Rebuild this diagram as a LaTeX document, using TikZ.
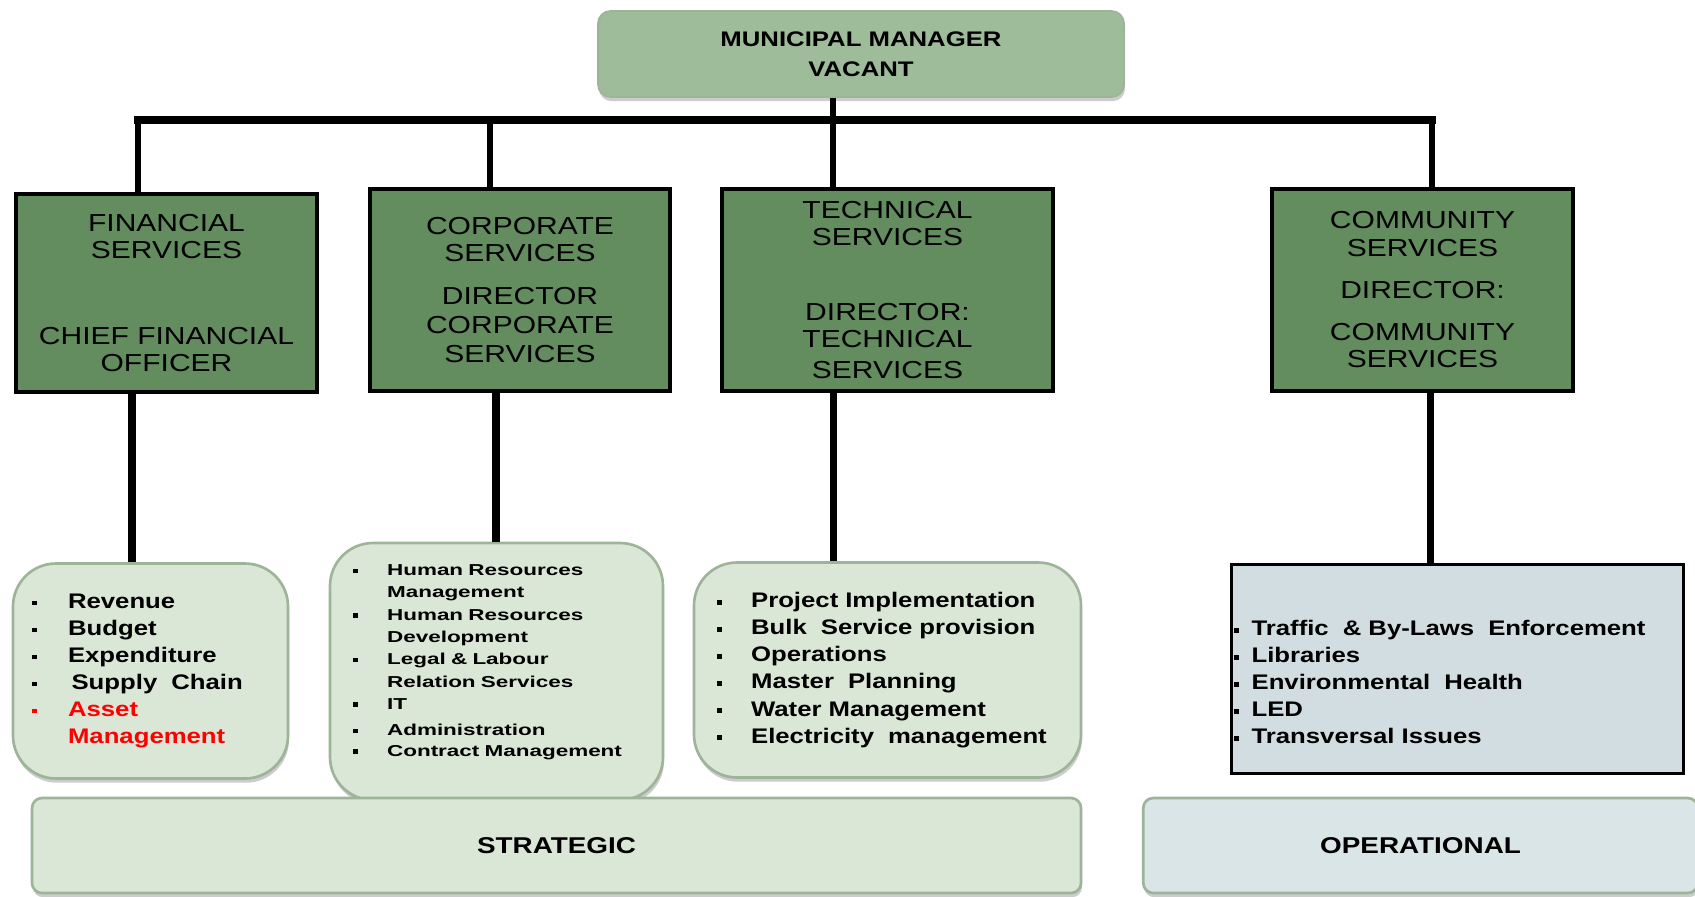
\documentclass[tikz,border=0pt]{standalone}
\usepackage{fontspec}
\setmainfont[FakeStretch=1.22]{Liberation Sans}
\newfontfamily\corpfont[FakeStretch=1.42]{Liberation Sans}
\usetikzlibrary{calc,shadows}
\definecolor{mmgreen}{HTML}{9EBC9A}
\definecolor{deptgreen}{HTML}{638C5F}
\definecolor{listgreen}{HTML}{DAE7D7}
\definecolor{listedge}{HTML}{9DB499}
\definecolor{commblue}{HTML}{D1DDE0}
\definecolor{opblue}{HTML}{D9E5E6}
\tikzstyle{softshadow}=[drop shadow={shadow xshift=0.6pt,shadow yshift=-2.4pt,opacity=0.4}]
\tikzstyle{mmbox}=[draw=listedge,line width=1pt,fill=mmgreen,rounded corners=0.25cm,softshadow,minimum width=10.52cm,minimum height=1.72cm,align=center,font=\fontsize{12}{14.4}\selectfont\bfseries]
\tikzstyle{deptbox}=[draw=black,line width=1.9pt,fill=deptgreen,align=center,font=\fontsize{14}{15.4}\selectfont]
\tikzstyle{listbox}=[draw=listedge,line width=1.5pt,fill=listgreen,rounded corners=0.86cm,softshadow,align=left,inner xsep=0pt,font=\fontsize{12}{15.4}\selectfont\bfseries]
\tikzstyle{commbox}=[draw=black,line width=1.7pt,fill=commblue,align=left,inner xsep=0pt,font=\fontsize{12}{15.4}\selectfont\bfseries]
\tikzstyle{bandbox}=[draw=listedge,line width=1.5pt,rounded corners=0.2cm,softshadow,minimum height=1.90cm,font=\fontsize{13}{15}\selectfont\bfseries]
\tikzstyle{busline}=[line width=5pt,line cap=rect]
\tikzstyle{tapline}=[line width=3.4pt]
\tikzstyle{dropline}=[line width=4pt]
\newcommand{\sqb}{\rule[0.15em]{2.6pt}{2.6pt}}
\newcommand{\itm}[2][20.5pt]{\mbox{\makebox[#1][l]{\sqb}#2}}
\newcommand{\cnt}[2][20.5pt]{\mbox{\hspace*{#1}#2}}

\begin{document}
\begin{tikzpicture}
	\useasboundingbox (0,0) rectangle (33.9,-17.92);
	% manager and directorates
	\node[mmbox] (mm) at (17.22,-1.08) {MUNICIPAL MANAGER\\[2.8pt]VACANT};
	\node[deptbox,minimum width=6.02cm,minimum height=3.96cm] (fin) at (3.33,-5.86) {FINANCIAL\\SERVICES\\[34pt]CHIEF FINANCIAL\\OFFICER};
	\node[deptbox,minimum width=6.00cm,minimum height=4.04cm] (corp) at (10.40,-5.80) {CORPORATE\\SERVICES\\[9pt]DIRECTOR\\[1.2pt]CORPORATE\\[1.2pt]SERVICES};
	\node[deptbox,minimum width=6.62cm,minimum height=4.04cm] (tech) at (17.75,-5.80) {TECHNICAL\\SERVICES\\[27pt]DIRECTOR:\\TECHNICAL\\[2.4pt]SERVICES};
	\node[deptbox,minimum width=6.02cm,minimum height=4.04cm] (comm) at (28.45,-5.80) {COMMUNITY\\SERVICES\\[9pt]DIRECTOR:\\[8.5pt]COMMUNITY\\SERVICES};
	% functions
	\node[listbox,minimum width=5.50cm,minimum height=4.30cm,text width=4.74cm] (finList) at (3.01,-13.42) {\itm{Revenue}\\\itm{Budget}\\\itm{Expenditure}\\\itm{\,Supply\ \ Chain}\\{\color{red}\itm{Asset}}\\{\color{red}\cnt{Management}}};
	\node[listbox,minimum width=6.66cm,minimum height=5.14cm,text width=5.74cm,font=\corpfont\fontsize{9}{12.7}\selectfont\bfseries] (corpList) at (9.93,-13.43) {\itm[19.4pt]{Human Resources}\\\cnt[19.4pt]{Management}\\\itm[19.4pt]{Human Resources}\\\cnt[19.4pt]{Development}\\\itm[19.4pt]{Legal \& Labour}\\\cnt[19.4pt]{Relation Services}\\\itm[19.4pt]{IT}\\[2.3pt]\itm[19.4pt]{Administration}\\[-1.1pt]\itm[19.4pt]{Contract Management}\\\mbox{}};
	\node[listbox,minimum width=7.74cm,minimum height=4.30cm,text width=6.82cm] (techList) at (17.75,-13.40) {\itm[19.4pt]{Project Implementation}\\\itm[19.4pt]{Bulk\ \ Service provision}\\\itm[19.4pt]{Operations}\\\itm[19.4pt]{Master\ \ Planning}\\\itm[19.4pt]{Water Management}\\\itm[19.4pt]{Electricity\ \ management}};
	\node[commbox,minimum width=9.04cm,minimum height=4.18cm,text width=8.92cm] (commList) at (29.14,-13.37) {\mbox{}\\[9pt]\itm[10pt]{Traffic\ \ \&\ By-Laws\ \ Enforcement}\\\itm[10pt]{Libraries}\\\itm[10pt]{Environmental\ \ Health}\\\itm[10pt]{LED}\\\itm[10pt]{Transversal Issues}};
	% levels
	\node[bandbox,fill=listgreen,minimum width=20.98cm] (strat) at (11.13,-16.91) {STRATEGIC};
	\node[bandbox,fill=opblue,minimum width=11.09cm] (oper) at (28.41,-16.91) {OPERATIONAL};
	% connectors
	\coordinate (bus) at (0,-2.40);
	\coordinate (finUp) at ($(fin.north)+(-0.57,0)$);
	\coordinate (corpUp) at ($(corp.north)+(-0.60,0)$);
	\coordinate (techUp) at ($(tech.north)+(-1.09,0)$);
	\coordinate (commUp) at ($(comm.north)+(0.19,0)$);
	\draw[busline] (finUp |- bus) -- (commUp |- bus);
	\draw[tapline] (mm.south -| techUp) -- (techUp |- bus);
	\foreach \d in {finUp,corpUp,techUp,commUp}
		\draw[tapline] (\d |- bus) -- (\d);
	\coordinate (finDown) at ($(fin.south)+(-0.69,0)$);
	\coordinate (corpDown) at ($(corp.south)+(-0.48,0)$);
	\coordinate (techDown) at ($(tech.south)+(-1.09,0)$);
	\coordinate (commDown) at ($(comm.south)+(0.15,0)$);
	\foreach \d/\l in {finDown/finList,corpDown/corpList,techDown/techList,commDown/commList}
		\draw[dropline] (\d) -- (\d |- \l.north);
\end{tikzpicture}
\end{document}
